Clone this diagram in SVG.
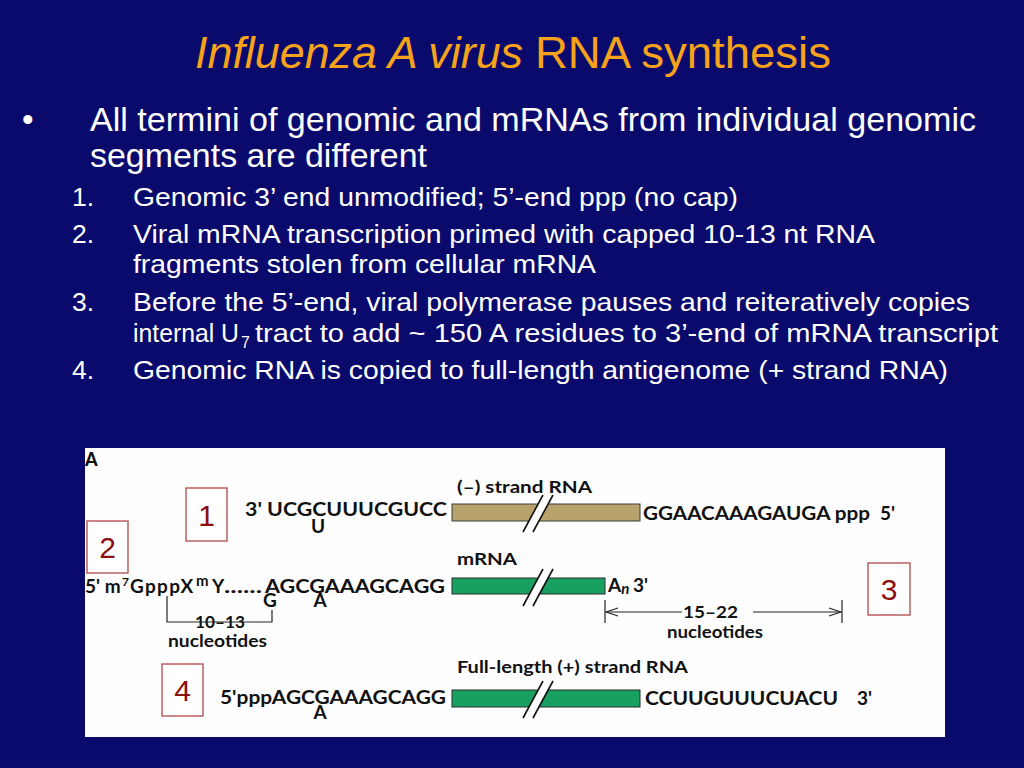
<svg xmlns="http://www.w3.org/2000/svg" width="1024" height="768" viewBox="0 0 1024 768">
<style>
.title{font-family:"Liberation Sans",Arial,sans-serif;font-size:44px;fill:#f7a21b}
.b1{font-family:"Liberation Sans",Arial,sans-serif;font-size:33px;fill:#ffffff}
.b2{font-family:"Liberation Sans",Arial,sans-serif;font-size:26.5px;fill:#ffffff}
.seq{font-family:Lato,"Open Sans",sans-serif;font-size:19px;font-weight:bold;fill:#111111}
.lbl{font-family:Lato,"Open Sans",sans-serif;font-size:17px;font-weight:bold;fill:#111111}
.num{font-family:"Liberation Sans",Arial,sans-serif;font-size:30px;fill:#8b0d0d;text-anchor:middle}
.nbox{fill:#ffffff;stroke:#b04848;stroke-width:1.3}
.tan{fill:#b8a36d;stroke:#3a3a3a;stroke-width:1}
.grn{fill:#17a05f;stroke:#2a2a2a;stroke-width:1}
.brkw{fill:#ffffff;stroke:none}
.brkl{stroke:#111111;stroke-width:1.6;fill:none}
.ln{stroke:#222222;stroke-width:1.2;fill:none}
</style>
<defs>
<marker id="ah" markerWidth="14" markerHeight="10" refX="13" refY="5" orient="auto-start-reverse" markerUnits="userSpaceOnUse">
<path d="M1,1 L13,5 L1,9" fill="none" stroke="#222222" stroke-width="1.2"/>
</marker>
<g id="brk">
<polygon class="brkw" points="15.7,-1 25.7,-1 15.4,18 5.4,18"/>
<line class="brkl" x1="0" y1="28" x2="20" y2="-9"/>
<line class="brkl" x1="10" y1="28" x2="30" y2="-9"/>
</g>
</defs>
<rect x="0" y="0" width="1024" height="768" fill="#0a0a6c"/>

<g id="title">
<text class="title" y="68"><tspan x="195" textLength="328" lengthAdjust="spacingAndGlyphs" font-style="italic">Influenza A virus</tspan><tspan x="535" textLength="296" lengthAdjust="spacingAndGlyphs">RNA synthesis</tspan></text>
</g>

<g id="bullets">
<text class="b1" x="22" y="131">•</text>
<text class="b1" x="90" y="131" textLength="886" lengthAdjust="spacingAndGlyphs">All termini of genomic and mRNAs from individual genomic</text>
<text class="b1" x="90" y="167" textLength="337" lengthAdjust="spacingAndGlyphs">segments are different</text>
<text class="b2" x="72" y="206">1.</text>
<text class="b2" x="133" y="206" textLength="605" lengthAdjust="spacingAndGlyphs">Genomic 3’ end unmodified; 5’-end ppp (no cap)</text>
<text class="b2" x="72" y="243">2.</text>
<text class="b2" x="133" y="243" textLength="742" lengthAdjust="spacingAndGlyphs">Viral mRNA transcription primed with capped 10-13 nt RNA</text>
<text class="b2" x="133" y="273" textLength="463" lengthAdjust="spacingAndGlyphs">fragments stolen from cellular mRNA</text>
<text class="b2" x="72" y="311">3.</text>
<text class="b2" x="133" y="311" textLength="837" lengthAdjust="spacingAndGlyphs">Before the 5’-end, viral polymerase pauses and reiteratively copies</text>
<text class="b2" y="342"><tspan x="133" textLength="106" lengthAdjust="spacingAndGlyphs">internal U</tspan><tspan x="241" dy="6" font-size="16">7</tspan><tspan x="255" dy="-6" textLength="743" lengthAdjust="spacingAndGlyphs">tract to add ~ 150 A residues to 3’-end of mRNA transcript</tspan></text>
<text class="b2" x="72" y="379">4.</text>
<text class="b2" x="133" y="379" textLength="815" lengthAdjust="spacingAndGlyphs">Genomic RNA is copied to full-length antigenome (+ strand RNA)</text>
</g>

<rect id="panel" x="85" y="448" width="860" height="289" fill="#fefefe"/>

<g id="panel-label">
<text x="85" y="466" font-family="Lato,'Open Sans',sans-serif" font-size="18" font-weight="900" fill="#111111">A</text>
</g>

<g id="row-minus">
<text class="lbl" x="457" y="493" textLength="135" lengthAdjust="spacingAndGlyphs">(–) strand RNA</text>
<rect class="tan" x="452" y="504" width="188" height="17"/>
<use href="#brk" x="523" y="504"/>
<text class="seq" x="245" y="516" textLength="202" lengthAdjust="spacingAndGlyphs">3' UCGCUUUCGUCC</text>
<text class="seq" x="318" y="533" text-anchor="middle">U</text>
<text class="seq" y="520"><tspan x="643" textLength="227" lengthAdjust="spacingAndGlyphs">GGAACAAAGAUGA ppp</tspan><tspan x="880">5'</tspan></text>
</g>

<g id="row-mrna">
<text class="lbl" x="457" y="565" textLength="60" lengthAdjust="spacingAndGlyphs">mRNA</text>
<rect class="grn" x="452" y="578" width="153" height="16"/>
<use href="#brk" x="523" y="578"/>
<text class="seq" y="593"><tspan x="85">5' m</tspan><tspan x="122" dy="-7" font-size="12">7</tspan><tspan x="130" dy="7" letter-spacing="1.3">GpppX</tspan><tspan x="196" dy="-7" font-size="15">m</tspan><tspan x="212" dy="7">Y</tspan><tspan x="224" textLength="38" lengthAdjust="spacingAndGlyphs">......</tspan><tspan x="265" textLength="180" lengthAdjust="spacingAndGlyphs">AGCGAAAGCAGG</tspan></text>
<text class="seq" x="270" y="607" text-anchor="middle">G</text>
<text class="seq" x="320" y="607" text-anchor="middle">A</text>
<text class="seq" y="592"><tspan x="608">A</tspan><tspan font-style="italic" font-size="15" dy="2">n</tspan><tspan x="633" dy="-2">3'</tspan></text>
<text class="lbl" x="195" y="628" textLength="50" lengthAdjust="spacingAndGlyphs">10–13</text>
<text class="lbl" x="168" y="647" textLength="99" lengthAdjust="spacingAndGlyphs">nucleotides</text>
<text class="lbl" x="683" y="618" textLength="55" lengthAdjust="spacingAndGlyphs">15–22</text>
<text class="lbl" x="667" y="638" textLength="96" lengthAdjust="spacingAndGlyphs">nucleotides</text>
</g>

<g id="row-plus">
<text class="lbl" x="457" y="673" textLength="231" lengthAdjust="spacingAndGlyphs">Full-length (+) strand RNA</text>
<rect class="grn" x="452" y="690" width="188" height="17"/>
<use href="#brk" x="523" y="690"/>
<text class="seq" x="220" y="704" textLength="226" lengthAdjust="spacingAndGlyphs">5'pppAGCGAAAGCAGG</text>
<text class="seq" x="320" y="719" text-anchor="middle">A</text>
<text class="seq" y="705"><tspan x="645" textLength="193" lengthAdjust="spacingAndGlyphs">CCUUGUUUCUACU</tspan><tspan x="857">3'</tspan></text>
</g>

<g id="connectors">
<polyline class="ln" points="167,596 167,622 272,622 272,610"/>
<line class="ln" x1="605" y1="600" x2="605" y2="623"/>
<line class="ln" x1="842" y1="600" x2="842" y2="623"/>
<line class="ln" x1="682" y1="612" x2="606" y2="612" marker-end="url(#ah)"/>
<line class="ln" x1="753" y1="612" x2="841" y2="612" marker-end="url(#ah)"/>
</g>

<g id="step1"><rect class="nbox" x="186" y="488" width="41" height="53"/><text class="num" x="206.5" y="526">1</text></g>
<g id="step2"><rect class="nbox" x="87" y="521" width="41" height="52"/><text class="num" x="107.5" y="558">2</text></g>
<g id="step3"><rect class="nbox" x="868" y="563" width="42" height="52"/><text class="num" x="889" y="600">3</text></g>
<g id="step4"><rect class="nbox" x="162" y="664" width="41" height="52"/><text class="num" x="182.5" y="701">4</text></g>
</svg>
